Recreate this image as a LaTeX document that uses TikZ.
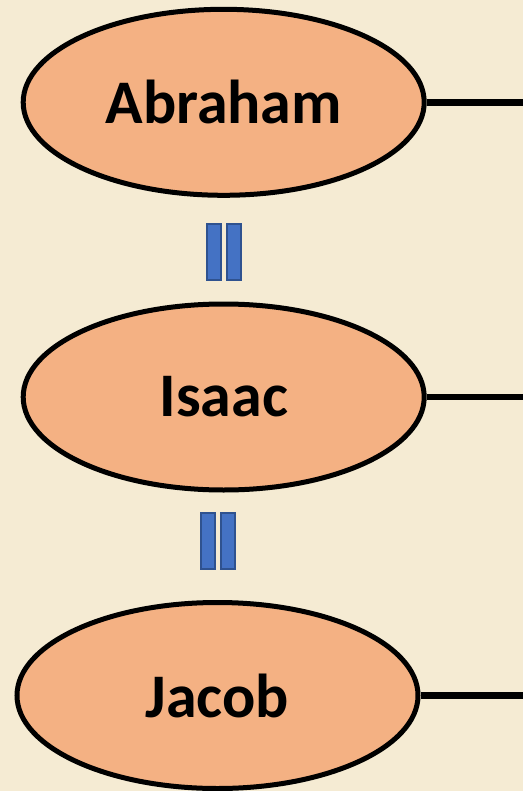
\documentclass[tikz,border=0pt]{standalone}
\usepackage{fontspec}
\setmainfont{Carlito}
\usepackage{tikz}
\usetikzlibrary{shapes.geometric,positioning}
\definecolor{pagebg}{HTML}{F5EBD3}
\definecolor{patfill}{HTML}{F4B183}
\definecolor{barfill}{HTML}{4472C4}
\definecolor{barline}{HTML}{2F528F}

\begin{document}
\begin{tikzpicture}[x=1pt,y=-1pt,
  patriarch/.style={ellipse, draw=black, line width=5pt, fill=patfill,
    minimum width=401pt, minimum height=186pt, inner sep=0pt,
    font=\bfseries\fontsize{62}{70}\selectfont},
  eqbar/.style={rectangle, draw=barline, line width=2pt, fill=barfill,
    minimum width=14pt, minimum height=56pt, inner sep=0pt},
  tie/.style={line width=6.5pt}]

  % Background, fixes the page size
  \fill[pagebg] (0,0) rectangle (523,791);
  \coordinate (edge) at (523,0);

  % The three generations
  \node[patriarch] (abraham) at (223.7,102.3) {Abraham};
  \node[patriarch] (isaac)   at (223.7,397)   {Isaac};
  \node[patriarch] (jacob)   at (217.5,695.5) {Jacob};

  % Lines running off to the right
  \foreach \p in {abraham,isaac,jacob} {
    \draw[tie] (\p.east) -- (\p.east -| edge);
  }

  % Equal signs between the ellipses
  \foreach \x/\y [count=\i] in {213.7/252, 234.2/252, 207.5/541, 228.3/541} {
    \node[eqbar] (bar\i) at (\x,\y) {};
  }

\end{tikzpicture}
\end{document}
